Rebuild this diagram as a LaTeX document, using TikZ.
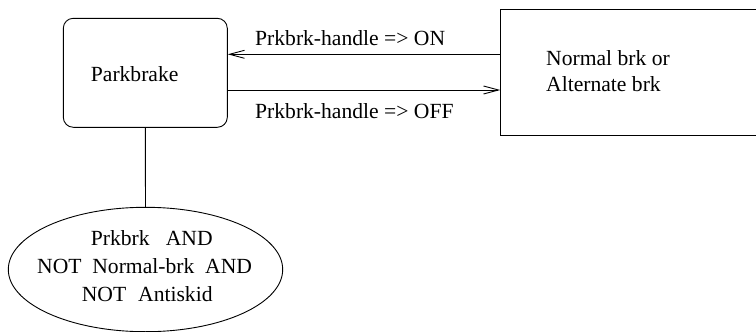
\documentclass[tikz,border=0pt]{standalone}
\usepackage{fontspec}
\setmainfont{Liberation Serif}
\usetikzlibrary{shapes.geometric,arrows.meta}
\begin{document}
\begin{tikzpicture}[x=1pt,y=-1pt,
  every node/.style={font=\fontsize{21.6pt}{26pt}\selectfont},
  txt/.style={inner sep=0pt,anchor=base west},
  state/.style={draw,line width=0.9pt,inner sep=0pt},
  conn/.style={line width=0.9pt},
  arr/.style={conn,-{Straight Barb[length=15pt,width=8pt,line width=0.9pt]}}]
\useasboundingbox (0,0) rectangle (756,332);
% states
\node[state,rounded corners=10pt,minimum width=164pt,minimum height=109pt] (parkbrake) at (145.3,72.8) {};
\node[txt] (parkbrakeLabel) at (90.7,81.7) {Parkbrake};
\node[state,minimum width=256.3pt,minimum height=126.4pt] (normal) at (628.85,72.5) {};
\node[txt] (normalA) at (546,65) {Normal brk or};
\node[txt] (normalB) at (546,91) {Alternate brk};
\node[state,ellipse,minimum width=274.4pt,minimum height=124.4pt] (cond) at (145.5,269.5) {};
\node[txt] (condA) at (90.7,245) {Prkbrk\hspace{0.75em}AND};
\node[txt] (condB) at (37,273) {NOT\hspace{0.5em}Normal-brk\hspace{0.5em}AND};
\node[txt] (condC) at (81.7,301.7) {NOT\hspace{0.55em}Antiskid};
% transitions
\coordinate (onY) at (0,54.3);
\coordinate (offY) at (0,90);
\draw[arr] (normal.west |- onY) -- (parkbrake.east |- onY);
\draw[arr] (parkbrake.east |- offY) -- (normal.west |- offY);
\node[txt] (onLabel) at (255,45.7) {Prkbrk-handle => ON};
\node[txt] (offLabel) at (255,118.3) {Prkbrk-handle => OFF};
\draw[conn] (parkbrake.south) -- (cond.north);
\end{tikzpicture}
\end{document}
